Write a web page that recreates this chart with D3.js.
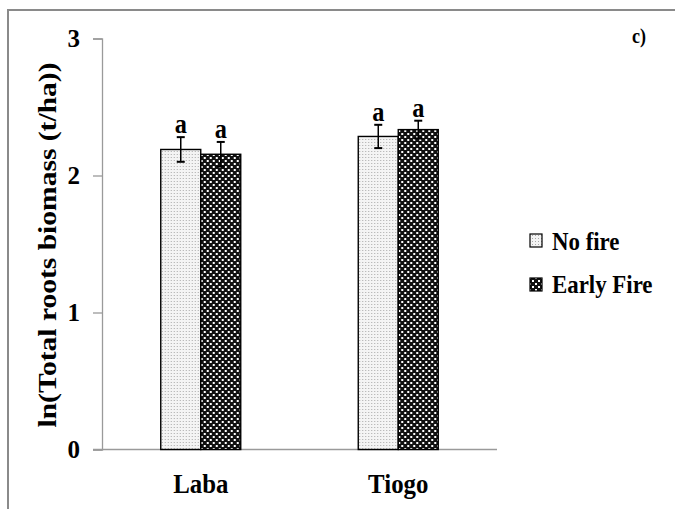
<!DOCTYPE html>
<html>
<head>
<meta charset="utf-8">
<script src="https://cdn.jsdelivr.net/npm/d3@7"></script>
<style>
  html, body { margin: 0; padding: 0; background: #fff; }
  svg { display: block; }
  text { font-family: "Liberation Serif", "Times New Roman", serif; font-weight: bold; fill: #000; }
</style>
</head>
<body>
<svg id="chart" width="675" height="509"></svg>
<script>
// Sites and treatments
const categories = ["Laba", "Tiogo"];
const seriesNames = ["No fire", "Early Fire"];

// Mean ln(total roots biomass) per site
const noFire = [2.19, 2.285];
const earlyFire = [2.155, 2.335];

// Standard errors
const noFireErr = [0.09, 0.085];
const earlyFireErr = [0.09, 0.065];

// Significance letters
const noFireLetters = ["a", "a"];
const earlyFireLetters = ["a", "a"];

const yTicks = [0, 1, 2, 3];
const yTitle = "ln(Total roots biomass (t/ha))";
const panelTag = "c)";

const svg = d3.select("#chart");
const W = 675, H = 509;

// fill patterns
const defs = svg.append("defs");
const pNo = defs.append("pattern").attr("id", "pat-nofire")
  .attr("patternUnits", "userSpaceOnUse").attr("width", 3).attr("height", 3);
pNo.append("rect").attr("width", 3).attr("height", 3).attr("fill", "#f4f4f4");
pNo.append("rect").attr("x", 1).attr("y", 1).attr("width", 1).attr("height", 1).attr("fill", "#a8a8a8");

const pEarly = defs.append("pattern").attr("id", "pat-early")
  .attr("patternUnits", "userSpaceOnUse").attr("width", 6).attr("height", 6);
pEarly.append("rect").attr("width", 6).attr("height", 6).attr("fill", "#111");
pEarly.append("rect").attr("x", 1).attr("y", 1).attr("width", 2).attr("height", 2).attr("fill", "#fff");
pEarly.append("rect").attr("x", 4).attr("y", 4).attr("width", 2).attr("height", 2).attr("fill", "#fff");

const fills = ["url(#pat-nofire)", "url(#pat-early)"];

// frame
svg.append("path")
  .attr("d", `M8,${H} L8,10 L${W},10`)
  .attr("fill", "none").attr("stroke", "#8a8a8a").attr("stroke-width", 2);

// scales
const y = d3.scaleLinear().domain([0, 3]).range([449.5, 38.5]);
const x0 = d3.scaleBand().domain(categories).range([102, 497])
  .paddingInner(0.595).paddingOuter(0.2975);
const x1 = d3.scaleBand().domain(seriesNames).range([0, x0.bandwidth()]);

// horizontally condensed bold text
function label(g, x, yy, str, size, anchor, sx) {
  return g.append("text")
    .attr("transform", `translate(${x},${yy}) scale(${sx},1)`)
    .attr("text-anchor", anchor)
    .style("font-size", size + "px")
    .text(str);
}

// y axis
const yAxis = svg.append("g").attr("transform", "translate(102,0)")
  .call(d3.axisLeft(y).tickValues(yTicks).tickFormat(d3.format("d"))
    .tickSize(9).tickPadding(13));
yAxis.select(".domain").attr("stroke", "#9a9a9a").attr("stroke-width", 1.3);
yAxis.selectAll(".tick line").attr("stroke", "#9a9a9a").attr("stroke-width", 1.3);
yAxis.selectAll(".tick text")
  .style("font-size", "25px")
  .style("font-family", '"Liberation Serif", "Times New Roman", serif')
  .style("font-weight", "bold")
  .attr("fill", "#000");

// x axis baseline
svg.append("line")
  .attr("x1", 93).attr("x2", 497)
  .attr("y1", y(0)).attr("y2", y(0))
  .attr("stroke", "#9a9a9a").attr("stroke-width", 1.3);

// bars
const rows = categories.map((c, i) => ({
  cat: c,
  vals: [
    { s: seriesNames[0], v: noFire[i], e: noFireErr[i], l: noFireLetters[i] },
    { s: seriesNames[1], v: earlyFire[i], e: earlyFireErr[i], l: earlyFireLetters[i] }
  ]
}));

const groups = svg.append("g").selectAll("g").data(rows).join("g")
  .attr("transform", d => `translate(${x0(d.cat)},0)`);

groups.selectAll("rect").data(d => d.vals).join("rect")
  .attr("x", d => x1(d.s))
  .attr("y", d => y(d.v))
  .attr("width", x1.bandwidth())
  .attr("height", d => y(0) - y(d.v))
  .attr("fill", (d, i) => fills[i])
  .attr("stroke", "#000").attr("stroke-width", 1.4);

// error bars
groups.each(function (d) {
  const g = d3.select(this);
  d.vals.forEach(v => {
    const cx = x1(v.s) + x1.bandwidth() / 2;
    const top = y(v.v + v.e), bot = y(v.v - v.e);
    g.append("line").attr("x1", cx).attr("x2", cx).attr("y1", top).attr("y2", bot)
      .attr("stroke", "#000").attr("stroke-width", 1.5);
    [top, bot].forEach(yy => g.append("line")
      .attr("x1", cx - 4).attr("x2", cx + 4).attr("y1", yy).attr("y2", yy)
      .attr("stroke", "#000").attr("stroke-width", 2));
    label(g, cx, top - 4, v.l, 27, "middle", 0.9);
  });
});

// category labels
categories.forEach(c => {
  label(svg, x0(c) + x0.bandwidth() / 2, 493, c, 27, "middle", 0.92);
});

// y title
svg.append("text")
  .attr("transform", `translate(47,245) rotate(-90)`)
  .attr("text-anchor", "middle")
  .attr("dominant-baseline", "central")
  .attr("textLength", 365)
  .attr("lengthAdjust", "spacingAndGlyphs")
  .style("font-size", "26px")
  .text(yTitle);

// panel tag
label(svg, 632, 43, panelTag, 20, "start", 0.9);

// legend
const legend = svg.append("g");
const legendRows = [{ y: 234, base: 250 }, { y: 278, base: 293 }];
seriesNames.forEach((s, i) => {
  legend.append("rect")
    .attr("x", 530).attr("y", legendRows[i].y)
    .attr("width", 12).attr("height", 13)
    .attr("fill", fills[i]).attr("stroke", "#000").attr("stroke-width", 1.2);
  label(legend, 552, legendRows[i].base, s, 26, "start", 0.88);
});
</script>
</body>
</html>
